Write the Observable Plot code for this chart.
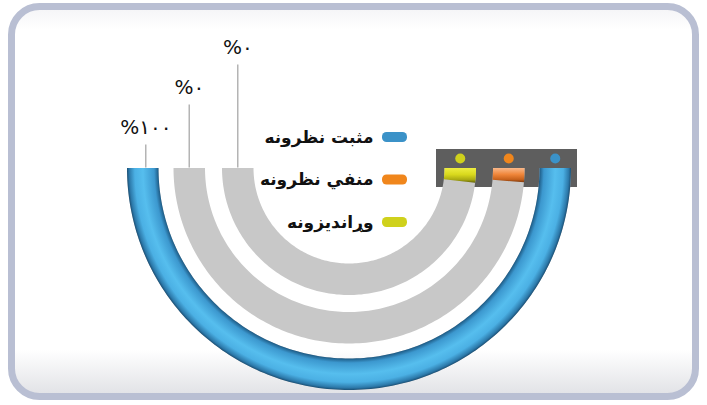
<!DOCTYPE html>
<html>
<head>
<meta charset="utf-8">
<script src="https://cdn.jsdelivr.net/npm/d3@7"></script>
<script src="https://cdn.jsdelivr.net/npm/@observablehq/plot@0.6"></script>
<style>
  html, body { margin: 0; padding: 0; background: #ffffff; }
  #chart svg { display: block; }
</style>
</head>
<body>
<div id="chart"></div>
<script>
// ---- data ----
const categories = ["مثبت نظرونه", "منفي نظرونه", "وړانديزونه"];
const values = [100, 0, 0];
const valueLabels = ["%۱۰۰", "%۰", "%۰"];
const colors = ["#3b92c8", "#f0861c", "#cfd11c"];

// ---- layout ----
const W = 707, H = 405;
const cx = 348.5, cy = 167.5;
const outerR = [222, 175.5, 127];
const thick = 31.5;
const capLen = 13;
const N = 160;

function arcPoly(id, rOut, rIn, a0, a1) {
  const pts = [];
  for (let k = 0; k <= N; k++) {
    const t = a0 + (a1 - a0) * k / N;
    pts.push({id, x: cx + rOut * Math.cos(t), y: cy + rOut * Math.sin(t)});
  }
  for (let k = N; k >= 0; k--) {
    const t = a0 + (a1 - a0) * k / N;
    pts.push({id, x: cx + rIn * Math.cos(t), y: cy + rIn * Math.sin(t)});
  }
  return pts;
}

const rings = categories.map((c, i) => {
  const rOut = outerR[i], rIn = rOut - thick, rMid = (rOut + rIn) / 2;
  const ang = Math.max(Math.PI * values[i] / 100, capLen / rMid);
  return {
    i, rOut, rIn, rMid,
    track: arcPoly("t" + i, rOut, rIn, 0, Math.PI),
    value: arcPoly("v" + i, rOut, rIn, 0, ang)
  };
});

const leaders = valueLabels.map((l, i) => ({
  label: l,
  x: cx - rings[i].rMid + (i === 0 ? 3 : 0),
  labelY: cy - 40 * (i + 1),
  top: cy - 40 * (i + 1) + 17
}));

const legend = categories.map((c, i) => ({c, color: colors[i], y: 137 + 42.5 * i}));
const dots = categories.map((c, i) => ({color: colors[i], x: cx + rings[i].rMid, y: 158}));

const marks = [
  Plot.rect([0], {x1: 11.5, x2: 695.5, y1: 6.5, y2: 396.5, rx: 28, fill: "url(#bg)", stroke: "#b9bfd3", strokeWidth: 7}),
  Plot.rect([0], {x1: 436, x2: 577, y1: 149, y2: 187, fill: "#5e5e5e"}),
  Plot.ruleX(leaders, {x: "x", y1: "top", y2: cy, stroke: "#b4b4b4", strokeWidth: 1.5}),
  Plot.text(leaders, {x: "x", y: "labelY", text: "label", fontSize: 20, fill: "#111", fontFamily: "DejaVu Sans", letterSpacing: "-0.5px"})
];
rings.forEach(r => {
  marks.push(Plot.line(r.track, {x: "x", y: "y", fill: "#c8c8c8", stroke: "none"}));
});
rings.forEach(r => {
  marks.push(Plot.line(r.value, {x: "x", y: "y", fill: `url(#g${r.i})`, stroke: "none"}));
});
marks.push(
  Plot.dot(dots, {x: "x", y: "y", r: 5, fill: "color", stroke: "none"}),
  Plot.rect(legend, {x1: 382, x2: 407, y1: d => d.y - 5, y2: d => d.y + 5, rx: 4.5, fill: "color"}),
  Plot.text(legend, {x: 373, y: "y", text: "c", textAnchor: "end", fontSize: 17, fontWeight: "bold", fill: "#111", fontFamily: "DejaVu Sans"})
);

const plot = Plot.plot({
  width: W, height: H,
  margin: 0,
  x: {domain: [0, W], range: [0, W], axis: null},
  y: {domain: [0, H], range: [0, H], axis: null},
  color: {type: "identity"},
  style: {background: "#ffffff"},
  marks
});

// gradients
const svg = d3.select(plot);
const defs = svg.insert("defs", ":first-child");
const bg = defs.append("linearGradient").attr("id", "bg").attr("x1", 0).attr("y1", 0).attr("x2", 0).attr("y2", 1);
[[0, "#f4f4f6"], [0.06, "#ffffff"], [0.88, "#ffffff"], [1, "#e0e1e5"]].forEach(([o, c]) => bg.append("stop").attr("offset", o).attr("stop-color", c));

const r0 = rings[0];
const g0 = defs.append("radialGradient").attr("id", "g0").attr("gradientUnits", "userSpaceOnUse")
  .attr("cx", cx).attr("cy", cy).attr("r", r0.rOut);
const f = r0.rIn / r0.rOut;
[[0, "#1d5a84"], [f, "#1d5a84"], [f + 0.02, "#3c98cf"], [f + 0.07, "#56beee"], [0.965, "#4bb0e4"], [0.99, "#2c79aa"], [1, "#1b4f74"]]
  .forEach(([o, c]) => g0.append("stop").attr("offset", o).attr("stop-color", c));

const capStops = {
  1: [[0, "#f9b88a"], [0.45, "#f0863a"], [0.8, "#c8621c"], [1, "#7a3a10"]],
  2: [[0, "#eeee40"], [0.45, "#d8d81c"], [0.8, "#a8a812"], [1, "#5e5e08"]]
};
[1, 2].forEach(i => {
  const g = defs.append("linearGradient").attr("id", "g" + i).attr("x1", 0).attr("y1", 0).attr("x2", 0).attr("y2", 1);
  capStops[i].forEach(([o, c]) => g.append("stop").attr("offset", o).attr("stop-color", c));
});

document.getElementById("chart").appendChild(plot);
</script>
</body>
</html>
